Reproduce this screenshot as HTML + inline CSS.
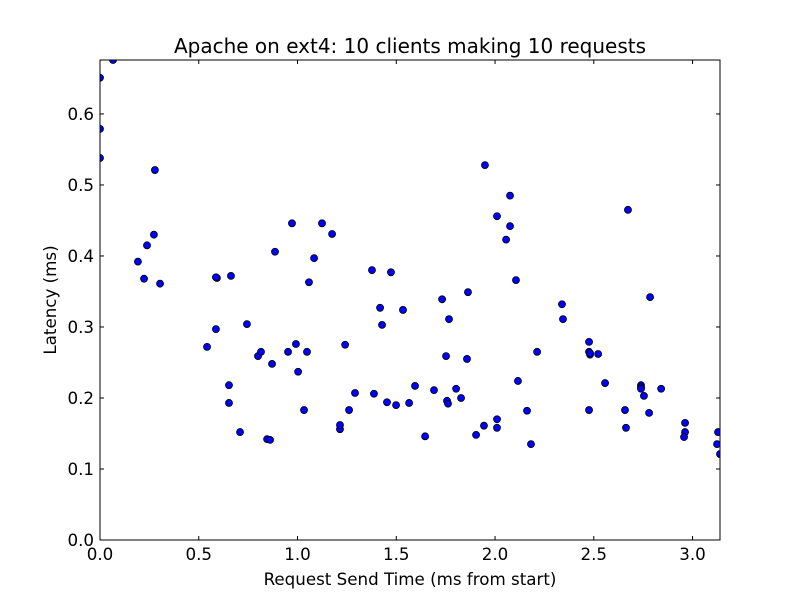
<!DOCTYPE html>
<html><head><meta charset="utf-8"><style>
body{margin:0;background:#fff;}
svg{display:block;font-family:"DejaVu Sans","Liberation Sans",sans-serif;}
</style></head><body>
<svg id="chart" width="800" height="600" viewBox="0 0 800 600">
<rect width="800" height="600" fill="#fff"/>
<defs><clipPath id="plotclip"><rect x="100" y="60" width="620" height="480"/></clipPath></defs>
<text x="410" y="53" text-anchor="middle" font-size="20">Apache on ext4: 10 clients making 10 requests</text>
<g id="points" clip-path="url(#plotclip)"></g>
<rect x="100" y="60" width="620" height="480" fill="none" stroke="#000" stroke-width="1"/>
<g id="ticks"></g>
<text x="410" y="585" text-anchor="middle" font-size="16.7">Request Send Time (ms from start)</text>
<text transform="translate(56,300) rotate(-90)" text-anchor="middle" font-size="16.7">Latency (ms)</text>
</svg>
<script>
const xValues=[0,0.066,0,0,0.278,0.273,0.238,0.192,0.223,0.304,0.542,0.587,0.592,0.587,0.663,0.653,0.653,0.709,0.744,0.800,0.815,0.846,0.861,0.871,0.886,0.952,0.972,0.992,1.003,1.033,1.048,1.058,1.084,1.124,1.175,1.215,1.215,1.241,1.261,1.291,1.377,1.387,1.418,1.428,1.453,1.473,1.499,1.534,1.565,1.595,1.646,1.691,1.732,1.752,1.757,1.762,1.767,1.803,1.828,1.858,1.863,1.904,1.949,1.944,2.010,2.010,2.010,2.056,2.076,2.076,2.106,2.116,2.162,2.182,2.213,2.339,2.344,2.476,2.476,2.476,2.481,2.481,2.522,2.557,2.658,2.663,2.673,2.739,2.739,2.739,2.754,2.780,2.785,2.841,2.962,2.962,2.957,3.129,3.124,3.139];
const yValues=[0.651,0.676,0.579,0.538,0.521,0.430,0.415,0.392,0.368,0.361,0.272,0.297,0.369,0.370,0.372,0.218,0.193,0.152,0.304,0.259,0.265,0.142,0.141,0.248,0.406,0.265,0.446,0.276,0.237,0.183,0.265,0.363,0.397,0.446,0.431,0.156,0.162,0.275,0.183,0.207,0.380,0.206,0.327,0.303,0.194,0.377,0.190,0.324,0.193,0.217,0.146,0.211,0.339,0.259,0.196,0.192,0.311,0.213,0.200,0.255,0.349,0.148,0.528,0.161,0.456,0.158,0.170,0.423,0.485,0.442,0.366,0.224,0.182,0.135,0.265,0.332,0.311,0.279,0.183,0.265,0.261,0.263,0.262,0.221,0.183,0.158,0.465,0.218,0.215,0.213,0.203,0.179,0.342,0.213,0.165,0.152,0.145,0.152,0.135,0.121];
const xTicks=[0,0.5,1,1.5,2,2.5,3];
const xTickLabels=["0.0","0.5","1.0","1.5","2.0","2.5","3.0"];
const yTicks=[0,0.1,0.2,0.3,0.4,0.5,0.6];
const yTickLabels=["0.0","0.1","0.2","0.3","0.4","0.5","0.6"];
const X0=100,X1=720,Y0=540,Y1=60,xMax=3.139,yMax=0.676;
function sx(v){return X0+v/xMax*(X1-X0);}
function sy(v){return Y0-v/yMax*(Y0-Y1);}
const NS="http://www.w3.org/2000/svg";
const pg=document.getElementById('points');
xValues.forEach((x,i)=>{
  const c=document.createElementNS(NS,'circle');
  c.setAttribute('cx',sx(x));c.setAttribute('cy',sy(yValues[i]));
  c.setAttribute('r',3.5);c.setAttribute('fill','#0000ff');c.setAttribute('stroke','#000');c.setAttribute('stroke-width','0.8');
  
  
  pg.appendChild(c);
});
const tg=document.getElementById('ticks');
function line(x1,y1,x2,y2){const l=document.createElementNS(NS,'line');l.setAttribute('x1',x1);l.setAttribute('y1',y1);l.setAttribute('x2',x2);l.setAttribute('y2',y2);l.setAttribute('stroke','#000');tg.appendChild(l);}
function txt(x,y,s,anchor){const t=document.createElementNS(NS,'text');t.setAttribute('x',x);t.setAttribute('y',y);t.setAttribute('text-anchor',anchor);t.setAttribute('font-size','16.7');t.textContent=s;


tg.appendChild(t);}
xTicks.forEach((v,i)=>{const x=sx(v);line(x,Y0,x,Y0-4);line(x,Y1,x,Y1+4);txt(x,Y0+20,xTickLabels[i],'middle');});
yTicks.forEach((v,i)=>{const y=sy(v);line(X0,y,X0+4,y);line(X1,y,X1-4,y);txt(X0-6,y+6,yTickLabels[i],'end');});
</script>
</body></html>
